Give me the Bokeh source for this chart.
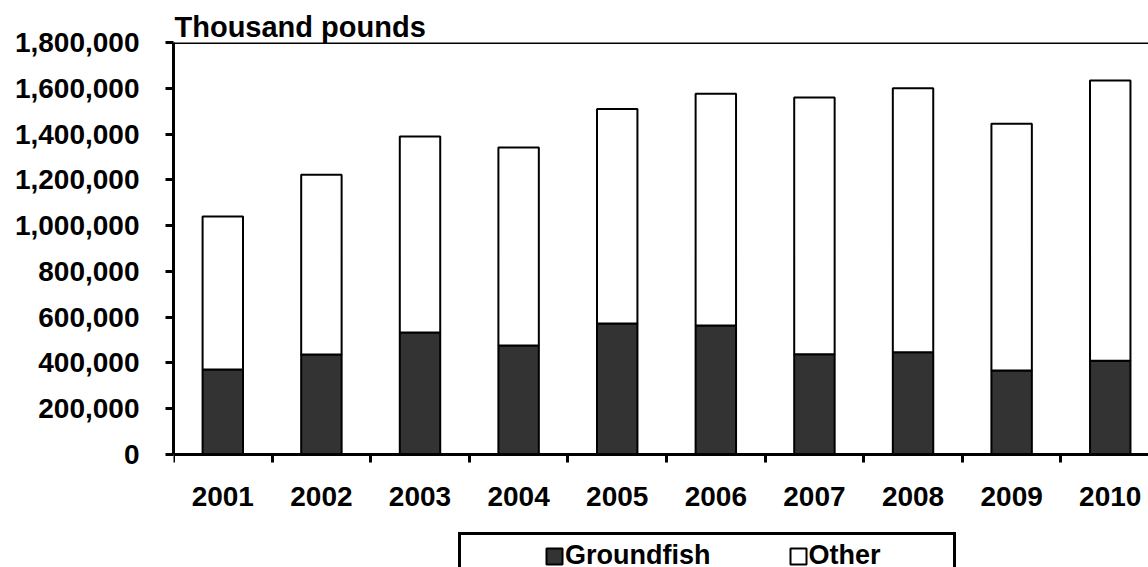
from bokeh.plotting import figure
from bokeh.models import (Range1d, FixedTicker, NumeralTickFormatter, Legend,
                          LegendItem, ColumnDataSource, Span, LinearAxis)
from bokeh.embed import file_html
from bokeh.resources import INLINE

# ---- data (thousand pounds) ----
years = ["2001", "2002", "2003", "2004", "2005", "2006", "2007", "2008", "2009", "2010"]
groundfish = [371000, 437000, 533000, 476000, 572000, 564000, 438000, 447000, 367000, 410000]
other = [669000, 785000, 856000, 865000, 937000, 1012000, 1122000, 1153000, 1078000, 1224000]
y_ticks = [0, 200000, 400000, 600000, 800000, 1000000, 1200000, 1400000, 1600000, 1800000]
y_max = 1800000
series_names = ["Groundfish", "Other"]

FONT = "Liberation Sans"
DARK = "#333333"

# layout (pixels)
W, H = 1148, 567
LEFT, TOP = 173, 42
PLOT_H = 412            # height of 0..y_max
BELOW = H - TOP - PLOT_H

xs = list(range(len(years)))
total = [g + o for g, o in zip(groundfish, other)]
src = ColumnDataSource(dict(x=xs, g=groundfish, t=total))

y_start = -y_max * BELOW / PLOT_H

p = figure(width=W, height=H, output_backend="svg", toolbar_location=None,
           x_range=Range1d(-0.5, 9.388), y_range=Range1d(y_start, y_max),
           x_axis_location=None,
           min_border_left=LEFT, min_border_right=0, min_border_top=TOP,
           min_border_bottom=0)
p.background_fill_color = "white"
p.border_fill_color = "white"
p.outline_line_color = None
p.xgrid.grid_line_color = None
p.ygrid.grid_line_color = None

BW = 0.41
rg = p.vbar(x="x", bottom=0, top="g", width=BW, source=src,
            fill_color=DARK, line_color="black", line_width=2)
ro = p.vbar(x="x", bottom="g", top="t", width=BW, source=src,
            fill_color="white", line_color="black", line_width=2)
spacer = p.vbar(x=[], top=[], width=BW, fill_alpha=0, line_alpha=0)

# top border line
p.add_layout(Span(location=y_max, dimension="width", line_color="black", line_width=3))

# title
p.title.text = "Thousand pounds"
p.title.text_font = FONT
p.title.text_font_style = "bold"
p.title.text_font_size = "29px"
p.title.text_color = "black"
p.title.align = "left"
p.title.standoff = 0
p.title.offset = 1

# y axis
ya = p.yaxis[0]
ya.ticker = FixedTicker(ticks=y_ticks)
ya.bounds = (0, y_max)
ya.formatter = NumeralTickFormatter(format="0,0")
ya.axis_line_width = 3
ya.axis_line_color = "black"
ya.major_tick_out = 8
ya.major_tick_in = 0
ya.major_tick_line_width = 3
ya.minor_tick_line_color = None
ya.major_label_text_font = FONT
ya.major_label_text_font_style = "bold"
ya.major_label_text_font_size = "28px"
ya.major_label_text_color = "black"
ya.major_label_standoff = 26

# x axis, fixed at y = 0 inside the frame
xa = LinearAxis(fixed_location=0)
xa.ticker = FixedTicker(ticks=xs, minor_ticks=[i - 0.5 for i in range(len(years) + 1)])
xa.major_label_overrides = {i: y for i, y in zip(xs, years)}
xa.axis_line_width = 3
xa.axis_line_color = "black"
xa.major_tick_out = 0
xa.major_tick_in = 0
xa.minor_tick_out = 8
xa.minor_tick_in = 0
xa.minor_tick_line_width = 3
xa.minor_tick_line_color = "black"
xa.major_label_text_font = FONT
xa.major_label_text_font_style = "bold"
xa.major_label_text_font_size = "28px"
xa.major_label_text_color = "black"
xa.major_label_standoff = 24
p.add_layout(xa, "below")

# legend
legend = Legend(items=[
    LegendItem(label=" ", renderers=[spacer]),
    LegendItem(label=series_names[0] + " " * 10, renderers=[rg]),
    LegendItem(label=series_names[1] + " " * 9, renderers=[ro]),
], orientation="horizontal", location=(285, -12))
legend.border_line_color = "black"
legend.border_line_width = 3
legend.border_line_alpha = 1
legend.background_fill_color = "white"
legend.background_fill_alpha = 1
legend.label_text_font = FONT
legend.label_text_font_style = "bold"
legend.label_text_font_size = "27px"
legend.label_text_color = "black"
legend.label_standoff = 1
legend.label_width = 55
legend.glyph_width = 20
legend.glyph_height = 20
legend.spacing = 2
legend.padding = 5
legend.margin = 0
p.add_layout(legend, "center")

open("out.html", "w").write(file_html(p, INLINE))
